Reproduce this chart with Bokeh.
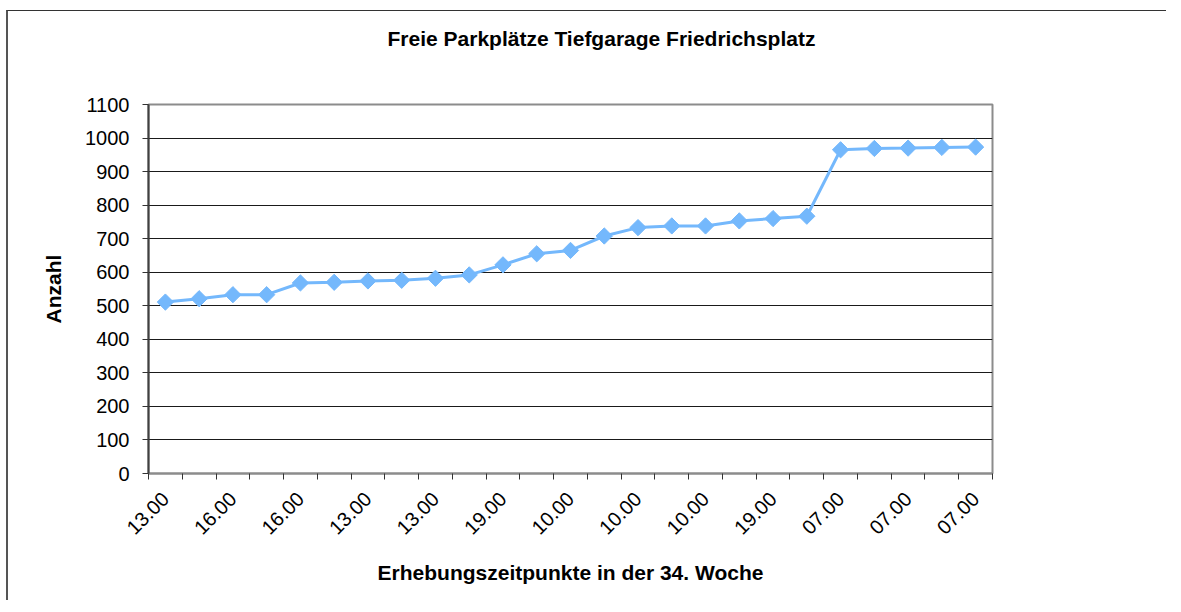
import numpy as np
from bokeh.plotting import figure
from bokeh.models import Range1d, FixedTicker, Title
from bokeh.embed import file_html
from bokeh.resources import INLINE

# ---- data ----
values = [511, 521, 533, 533, 568, 570, 574, 576, 582, 592, 622, 655, 665,
          708, 733, 738, 738, 753, 760, 767, 965, 969, 970, 972, 973]
tick_labels = ["13.00", "16.00", "16.00", "13.00", "13.00", "19.00", "10.00",
               "10.00", "10.00", "19.00", "07.00", "07.00", "07.00"]
y_ticks = list(range(0, 1101, 100))
chart_title = "Freie Parkplätze Tiefgarage Friedrichsplatz"
x_title = "Erhebungszeitpunkte in der 34. Woche"
y_title = "Anzahl"

FONT = "Liberation Sans"
n = len(values)
x = list(range(1, n + 1))
label_pos = list(range(1, n + 1, 2))
boundaries = [i + 0.5 for i in range(0, n + 1)]

W, H = 1160, 590
p = figure(width=W, height=H, output_backend="svg", toolbar_location=None,
           title=None,
           x_range=Range1d(0.5, n + 0.5), y_range=Range1d(0, 1100),
           min_border_left=140, min_border_top=93, min_border_right=176,
           min_border_bottom=128)
p.styles = {"border-left": "2px solid #555", "border-top": "1px solid #333",
            "margin-left": "6px", "margin-top": "10px"}

# spacer between the chart title and the plot area (added first = nearest)
p.add_layout(Title(text=" ", text_font_size="12px", standoff=23,
                   text_font=FONT), "above")
p.add_layout(Title(text=chart_title, align="left", offset=239, standoff=28,
                   vertical_align="top",
                   text_font=FONT, text_font_size="21px", text_font_style="bold",
                   text_color="#000000"), "above")

p.outline_line_color = "#8c8c8c"
p.outline_line_width = 2

# grid
p.xgrid.grid_line_color = None
p.ygrid.ticker = FixedTicker(ticks=y_ticks)
p.ygrid.grid_line_color = "#1a1a1a"
p.ygrid.grid_line_width = 1

# x axis
xa = p.xaxis[0]
xa.ticker = FixedTicker(ticks=label_pos, minor_ticks=boundaries)
xa.major_label_overrides = {pos: lab for pos, lab in zip(label_pos, tick_labels)}
xa.major_tick_out = 0
xa.major_tick_in = 0
xa.minor_tick_out = 6
xa.minor_tick_in = 0
xa.minor_tick_line_color = "#333333"
xa.minor_tick_line_width = 1
xa.axis_line_color = "#8c8c8c"
xa.axis_line_width = 2
xa.major_label_orientation = np.pi / 4
xa.major_label_text_font = FONT
xa.major_label_text_font_size = "20px"
xa.major_label_text_color = "#000000"
xa.major_label_standoff = 16
xa.axis_label = x_title
xa.axis_label_text_font = FONT
xa.axis_label_text_font_size = "21px"
xa.axis_label_text_font_style = "bold"
xa.axis_label_text_color = "#000000"
xa.axis_label_standoff = 17

# y axis
ya = p.yaxis[0]
ya.ticker = FixedTicker(ticks=y_ticks)
ya.major_tick_out = 6
ya.major_tick_in = 0
ya.minor_tick_out = 0
ya.minor_tick_in = 0
ya.major_tick_line_color = "#333333"
ya.axis_line_color = "#404040"
ya.axis_line_width = 2
ya.major_label_text_font = FONT
ya.major_label_text_font_size = "20px"
ya.major_label_text_color = "#000000"
ya.major_label_standoff = 13
ya.axis_label = y_title
ya.axis_label_text_font = FONT
ya.axis_label_text_font_size = "21px"
ya.axis_label_text_font_style = "bold"
ya.axis_label_text_color = "#000000"
ya.axis_label_standoff = 17

# series
LINE_C = "#74b8fc"
p.line(x, values, line_color=LINE_C, line_width=3)
p.scatter(x, values, marker="square", angle=np.pi / 4, size=11.5,
          fill_color=LINE_C, line_color=LINE_C)

open("out.html", "w").write(file_html(p, INLINE))
